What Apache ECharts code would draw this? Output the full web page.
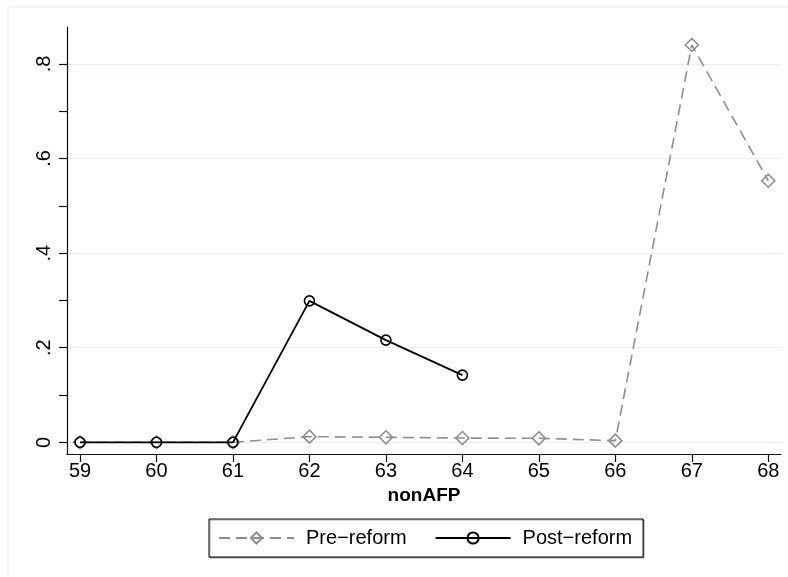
<!DOCTYPE html>
<html>
<head>
<meta charset="utf-8">
<script src="https://cdn.jsdelivr.net/npm/echarts@6/dist/echarts.min.js"></script>
<style>
  html, body { margin: 0; padding: 0; background: #fff; }
  #chart { width: 788px; height: 577px; }
</style>
</head>
<body>
<div id="chart"></div>
<script>
// ---- data ----
var ages = [59, 60, 61, 62, 63, 64, 65, 66, 67, 68];
var preReform = [0, 0, 0, 0.012, 0.0106, 0.009, 0.0085, 0.0035, 0.840, 0.553];
var postAges = [59, 60, 61, 62, 63, 64];
var postReform = [0, 0, 0, 0.299, 0.216, 0.142];
var xTickValues = [59, 60, 61, 62, 63, 64, 65, 66, 67, 68];
var yLabelValues = [0, 0.2, 0.4, 0.6, 0.8];
var yTickValues = [0, 0.1, 0.2, 0.3, 0.4, 0.5, 0.6, 0.7, 0.8];
var seriesNames = ['Pre\u2212reform', 'Post\u2212reform'];
var xTitle = 'nonAFP';

var FONT = '"Liberation Sans", Arial, Helvetica, sans-serif';
var GRAY = '#8e8e8e';
var GRID = '#e7eff1';

function pairs(xs, ys) { return xs.map(function (x, i) { return [x, ys[i]]; }); }

var chart = echarts.init(document.getElementById('chart'), null, { renderer: 'canvas' });
chart.setOption({
  backgroundColor: '#ffffff',
  animation: false,
  textStyle: { fontFamily: FONT },
  graphic: [{
    type: 'rect', silent: true, z: -10,
    shape: { x: 8, y: 7, width: 800, height: 600 },
    style: { fill: 'none', stroke: GRID, lineWidth: 1 }
  }],
  grid: { left: 67, right: 7, top: 27, bottom: 123, containLabel: false },
  xAxis: {
    type: 'value', min: 58.83, max: 68.166,
    name: xTitle, nameLocation: 'middle', nameGap: 32,
    nameTextStyle: { fontFamily: FONT, fontSize: 19, fontWeight: 'bold', color: '#000' },
    axisLine: { show: true, onZero: false, lineStyle: { color: '#111', width: 1.2 } },
    axisTick: { show: true, length: 8, customValues: xTickValues, lineStyle: { color: '#111', width: 1.2 } },
    axisLabel: { customValues: xTickValues, margin: 7, fontSize: 20, color: '#000', fontFamily: FONT },
    splitLine: { show: false }
  },
  yAxis: {
    type: 'value', min: -0.0247, max: 0.878,
    axisLine: { show: true, onZero: false, lineStyle: { color: '#111', width: 1.2 } },
    axisTick: { show: true, length: 8, customValues: yTickValues, lineStyle: { color: '#111', width: 1.2 } },
    axisLabel: {
      customValues: yLabelValues, rotate: 90, margin: 13, fontSize: 20, color: '#000', fontFamily: FONT,
      formatter: function (v) { return v === 0 ? '0' : String(Math.round(v * 10) / 10).replace(/^0/, ''); }
    },
    splitLine: { show: false }
  },
  legend: {
    data: seriesNames,
    left: 209, top: 519,
    orient: 'horizontal',
    padding: [9, 11, 9, 9],
    itemWidth: 75, itemHeight: 14, itemGap: 28,
    borderColor: '#000', borderWidth: 1,
    shadowColor: 'rgba(0,0,0,0.35)', shadowOffsetX: 1, shadowOffsetY: 1, shadowBlur: 0,
    backgroundColor: '#fff',
    textStyle: { fontFamily: FONT, fontSize: 20, color: '#000', padding: [0, 0, 0, 7] }
  },
  series: [
    {
      name: 'grid', type: 'line', data: [], z: 0, silent: true,
      markLine: {
        z: 0, zlevel: 0,
        silent: true, symbol: 'none', label: { show: false },
        lineStyle: { color: GRID, type: 'solid', width: 1.2 },
        data: yLabelValues.map(function (v) { return { yAxis: v }; })
      }
    },
    {
      name: seriesNames[0], type: 'line', z: 3,
      data: pairs(ages, preReform),
      symbol: 'diamond', symbolSize: 13,
      itemStyle: { color: 'transparent', borderColor: GRAY, borderWidth: 1.6 },
      lineStyle: { color: GRAY, width: 1.6, type: [11, 6] }
    },
    {
      name: seriesNames[1], type: 'line', z: 4,
      data: pairs(postAges, postReform),
      symbol: 'circle', symbolSize: 10,
      itemStyle: { color: 'transparent', borderColor: '#000', borderWidth: 1.6 },
      lineStyle: { color: '#000', width: 1.8, type: 'solid' }
    }
  ]
});
</script>
</body>
</html>
